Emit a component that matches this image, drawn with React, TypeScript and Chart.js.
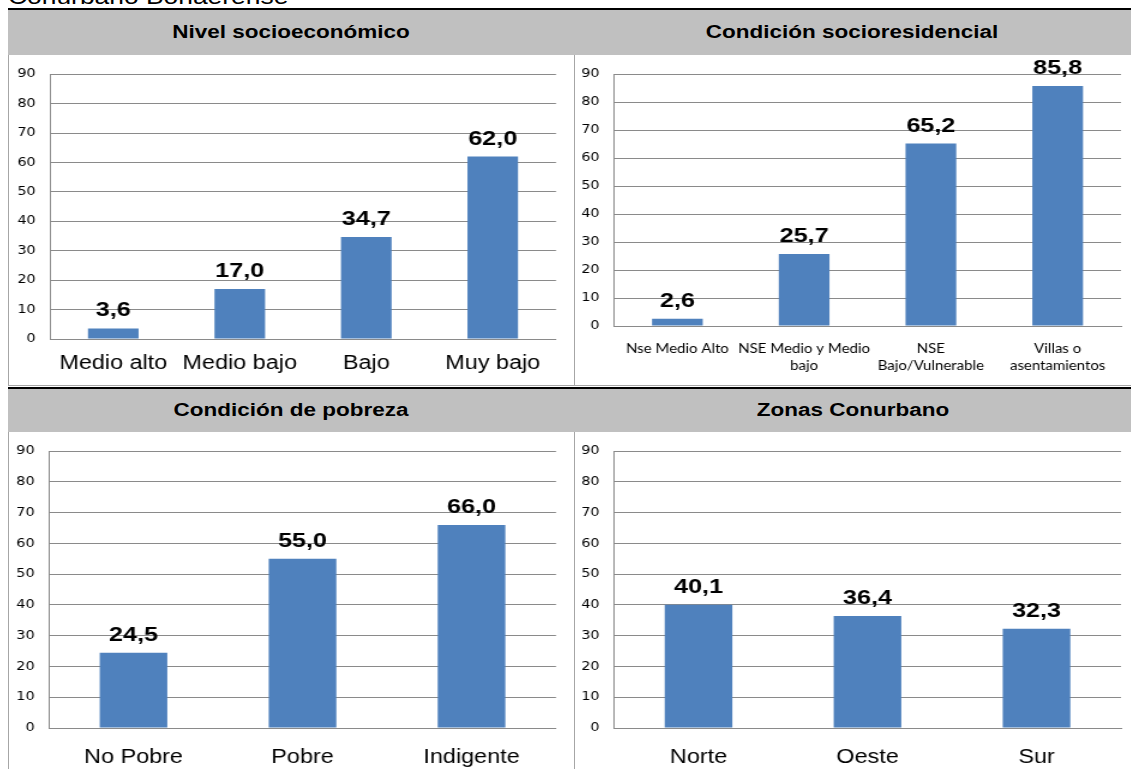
import React, { useEffect, useRef } from "react";
import { Chart, registerables } from "chart.js";
Chart.register(...registerables);

// ---- data ----
const nseLabels = ["Medio alto", "Medio bajo", "Bajo", "Muy bajo"];
const nseValues = [3.6, 17.0, 34.7, 62.0];
const resLabels = [["Nse Medio Alto"], ["NSE Medio y Medio", "bajo"], ["NSE", "Bajo/Vulnerable"], ["Villas o", "asentamientos"]];
const resValues = [2.6, 25.7, 65.2, 85.8];
const pobLabels = ["No Pobre", "Pobre", "Indigente"];
const pobValues = [24.5, 55.0, 66.0];
const zonLabels = ["Norte", "Oeste", "Sur"];
const zonValues = [40.1, 36.4, 32.3];
const yMin = 0;
const yMax = 90;
const yStep = 10;
const pageTitle = "Conurbano Bonaerense";
const panelTitles = ["Nivel socioeconómico", "Condición socioresidencial", "Condición de pobreza", "Zonas Conurbano"];

const BAR = "#4f81bd";
const GRID = "#8a8a8a";
const SX = 1.2; // horizontal stretch of the original picture

const valueLabels = {
  id: "valueLabels",
  afterDatasetsDraw(chart: any, _args: any, opts: any) {
    const ctx = chart.ctx;
    const meta = chart.getDatasetMeta(0);
    ctx.save();
    ctx.font = opts.font;
    ctx.fillStyle = "#000";
    ctx.textAlign = "center";
    ctx.textBaseline = "alphabetic";
    meta.data.forEach((el: any, i: number) => {
      const v = chart.data.datasets[0].data[i] as number;
      ctx.fillText(v.toFixed(1).replace(".", ","), el.x, el.y - opts.offset);
    });
    ctx.restore();
  },
};

type PanelProps = {
  labels: any[];
  values: number[];
  w: number;
  h: number;
  plot: { l: number; r: number; t: number; b: number };
  xFont: any;
  xPad: number;
  barPct: number;
};

function BarPanel(p: PanelProps) {
  const ref = useRef<HTMLCanvasElement>(null);
  const cw = Math.round(p.w / SX);
  const pl = p.plot.l / SX;
  const pr = p.plot.r / SX;
  useEffect(() => {
    const chart = new Chart(ref.current!, {
      type: "bar",
      data: {
        labels: p.labels,
        datasets: [{ data: p.values, backgroundColor: BAR, borderWidth: 0, barPercentage: p.barPct, categoryPercentage: 1 }],
      },
      options: {
        responsive: false,
        animation: false,
        devicePixelRatio: 1,
        layout: { autoPadding: false, padding: { left: 0, top: p.plot.t, right: cw - pr, bottom: 0 } },
        plugins: {
          legend: { display: false },
          tooltip: { enabled: false },
          valueLabels: { font: "bold 21px 'Liberation Sans', Arial, sans-serif", offset: 12 },
        } as any,
        scales: {
          x: {
            grid: { display: false, drawTicks: false },
            border: { display: true, color: GRID, width: 1 },
            ticks: { color: "#000", font: p.xFont, padding: p.xPad, maxRotation: 0, autoSkip: false },
            afterFit: (s: any) => { s.height = p.h - p.plot.b; },
          },
          y: {
            min: yMin,
            max: yMax,
            grid: { color: GRID, drawTicks: false, lineWidth: 1 },
            border: { display: true, color: GRID, width: 1 },
            ticks: { stepSize: yStep, color: "#000", font: { family: "'DejaVu Sans', sans-serif", size: 12 }, padding: 12 },
            afterFit: (s: any) => { s.width = pl; },
          },
        },
      },
      plugins: [valueLabels as any],
    });
    return () => chart.destroy();
  }, []);
  return (
    <div style={{ width: cw, height: p.h, transform: `scaleX(${SX})`, transformOrigin: "0 0" }}>
      <canvas ref={ref} width={cw} height={p.h} style={{ display: "block" }} />
    </div>
  );
}

const abs = (l: number, t: number, w: number, h: number, extra: any = {}) => ({
  position: "absolute" as const, left: l, top: t, width: w, height: h, ...extra,
});

function Header({ l, t, w, h, text }: { l: number; t: number; w: number; h: number; text: string }) {
  return (
    <div style={abs(l, t, w, h, { display: "flex", alignItems: "center", justifyContent: "center" })}>
      <span style={{ fontFamily: "'Liberation Sans', Arial, sans-serif", fontWeight: 700, fontSize: 18, color: "#000", display: "inline-block", transform: "scaleX(1.25)", whiteSpace: "nowrap" }}>{text}</span>
    </div>
  );
}

export default function App() {
  useEffect(() => {
    document.body.style.margin = "0";
  }, []);
  const bigX = { family: "'Liberation Sans', Arial, sans-serif", size: 19.5 };
  const smallX = { family: "Lato, 'Open Sans', sans-serif", size: 12.5, lineHeight: 1.35 };
  return (
    <div style={{ position: "relative", width: 1131, height: 769, overflow: "hidden", background: "#fff" }}>
      <div style={abs(8, -15, 700, 30, { fontFamily: "'Liberation Sans', Arial, sans-serif", fontSize: 22, lineHeight: "24px", whiteSpace: "nowrap", transform: "scaleX(1.2)", transformOrigin: "0 0" })}>{pageTitle}</div>
      {/* top header */}
      <div style={abs(8, 8, 1123, 2, { background: "#000" })} />
      <div style={abs(8, 10, 1123, 45, { background: "#c0c0c0" })} />
      <Header l={8} t={10} w={566} h={45} text={panelTitles[0]} />
      <Header l={574} t={10} w={557} h={45} text={panelTitles[1]} />
      {/* top panels */}
      <div style={abs(8, 55, 1, 330, { background: "#a6a6a6" })} />
      <div style={abs(574, 55, 1, 330, { background: "#a6a6a6" })} />
      <div style={abs(9, 55, 565, 330)}>
        <BarPanel labels={nseLabels} values={nseValues} w={565} h={330} plot={{ l: 41, r: 547, t: 18, b: 284 }} xFont={bigX} xPad={13} barPct={0.4} />
      </div>
      <div style={abs(575, 55, 556, 330)}>
        <BarPanel labels={resLabels} values={resValues} w={556} h={330} plot={{ l: 39, r: 546, t: 17, b: 271 }} xFont={smallX} xPad={15} barPct={0.4} />
      </div>
      <div style={abs(8, 385, 1123, 1, { background: "#a6a6a6" })} />
      {/* bottom header */}
      <div style={abs(8, 387, 1123, 2, { background: "#000" })} />
      <div style={abs(8, 389, 1123, 43, { background: "#c0c0c0" })} />
      <Header l={8} t={389} w={566} h={43} text={panelTitles[2]} />
      <Header l={574} t={389} w={557} h={43} text={panelTitles[3]} />
      {/* bottom panels */}
      <div style={abs(8, 432, 1, 337, { background: "#a6a6a6" })} />
      <div style={abs(574, 432, 1, 337, { background: "#a6a6a6" })} />
      <div style={abs(9, 432, 565, 337)}>
        <BarPanel labels={pobLabels} values={pobValues} w={565} h={337} plot={{ l: 40, r: 547, t: 19, b: 296 }} xFont={bigX} xPad={18} barPct={0.4} />
      </div>
      <div style={abs(575, 432, 556, 337)}>
        <BarPanel labels={zonLabels} values={zonValues} w={556} h={337} plot={{ l: 39, r: 546, t: 19, b: 296 }} xFont={bigX} xPad={18} barPct={0.4} />
      </div>
    </div>
  );
}
